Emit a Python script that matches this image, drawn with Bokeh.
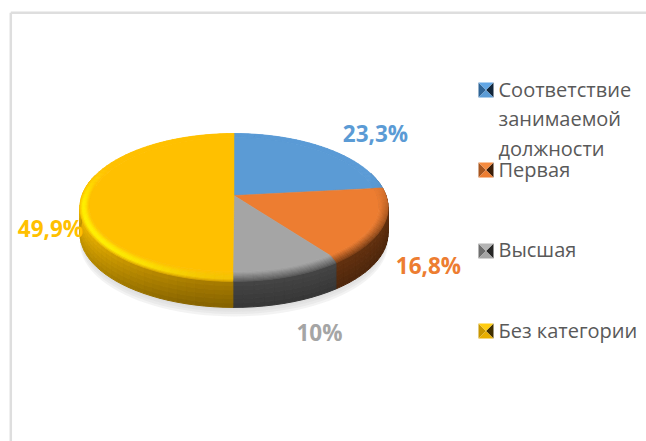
import math
from bokeh.plotting import figure
from bokeh.models import Range1d
from bokeh.core.properties import value
from bokeh.embed import file_html
from bokeh.resources import INLINE

categories = ["Соответствие занимаемой должности", "Первая", "Высшая", "Без категории"]
legend_lines = [["Соответствие", "занимаемой", "должности"], ["Первая"], ["Высшая"], ["Без категории"]]
shares = [23.3, 16.8, 10.0, 49.9]
share_labels = ["23,3%", "16,8%", "10%", "49,9%"]

base_colors = ["#5B9BD5", "#ED7D31", "#A5A5A5", "#FFC000"]
label_colors = ["#5B9BD5", "#ED7D31", "#A5A5A5", "#FFC000"]
bevel_colors = ["#3F6F9F", "#7A3D14", "#555555", "#FFF000"]
side_near = ["#2F5F8F", "#63310F", "#454545", "#A87C00"]
side_far = ["#2F5F8F", "#63310F", "#454545", "#F4BA00"]
label_pos = [(375, 133), (428, 265), (319, 332), (50, 228)]
legend_line_y = [[89, 118, 148], [169], [249], [330]]
legend_box_y = [82, 162, 243, 323]
marker_faces = [("#62A6E4", "#2F6496", "#12263A", "#5B9BD5"),
                ("#F58B40", "#A8561F", "#3A1D08", "#ED7D31"),
                ("#B4B4B4", "#6E6E6E", "#262626", "#A5A5A5"),
                ("#FFCC10", "#C89600", "#3F2F00", "#E8AE00")]

W, H = 646, 441
CX, CY, RX, RY, K = 233.5, 195, 152, 72, 0.162
DEPTH, TOP_SCALE = 26, 0.94


def rim(th, s=1.0, dz=0.0):
    u, v = math.sin(th), math.cos(th)
    d = 1 + K * v
    return CX + RX * s * u / d, CY - RY * s * v / d + dz


def bevel_pt(th, f):
    s = 1 - (1 - TOP_SCALE) * f
    return rim(th, s, -4.5 * max(0.0, -math.cos(th)) * f)


def hex_rgb(c):
    return tuple(int(c[i:i + 2], 16) for i in (1, 3, 5))


def mix(a, b, t):
    x, y = hex_rgb(a), hex_rgb(b)
    return "#%02x%02x%02x" % tuple(round(x[i] + (y[i] - x[i]) * t) for i in range(3))


p = figure(width=W, height=H, output_backend="svg", toolbar_location=None,
           x_range=Range1d(0, W), y_range=Range1d(H, 0),
           min_border=0, outline_line_color=None, background_fill_color="white")
p.axis.visible = False
p.grid.visible = False

p.segment(x0=[10.3, 10.3], y0=[12.2, 12.2], x1=[10.3, W], y1=[H, 12.2],
          line_color="#DEDEDE", line_width=2.5)

ring = [2 * math.pi * i / 120 for i in range(120)]
for i in range(5):
    pts = [rim(t, 1.0 - 0.004 * i, DEPTH + 9 - 2 * i) for t in ring]
    p.patch([a for a, _ in pts], [b for _, b in pts], fill_color="#D0D0D0", fill_alpha=0.25, line_color=None)

limits, acc = [], 0.0
for s in shares:
    limits.append((acc / sum(shares) * 2 * math.pi, (acc + s) / sum(shares) * 2 * math.pi))
    acc += s

side_x, side_y, side_c = [], [], []
bev_x, bev_y, bev_c = [], [], []
STEPS_SIDE, STEPS_BEVEL = 6, 8

for idx, (a, b) in enumerate(limits):
    n = max(2, int((b - a) / math.radians(3)))
    for j in range(n):
        t0 = a + (b - a) * j / n
        t1 = a + (b - a) * (j + 1) / n
        tm = (t0 + t1) / 2
        cm = math.cos(tm)
        front = max(0.0, -cm) ** 2.2
        side_top = mix(side_far[idx], side_near[idx], front)
        if cm < 0.3:  # only the part of the wall that faces the viewer
            for k in range(STEPS_SIDE):
                z0, z1 = DEPTH * (1 - k / STEPS_SIDE), DEPTH * (1 - (k + 1) / STEPS_SIDE)
                col = mix(side_top, mix(side_top, "#000000", 0.22), 1 - (k + 0.5) / STEPS_SIDE)
                q = [rim(t0, 1, z0), rim(t1, 1, z0), rim(t1, 1, z1), rim(t0, 1, z1)]
                side_x.append([c[0] for c in q])
                side_y.append([c[1] for c in q])
                side_c.append(col)
        for k in range(STEPS_BEVEL):
            f0, f1 = k / STEPS_BEVEL, (k + 1) / STEPS_BEVEL
            fm = (f0 + f1) / 2
            if idx == 3:
                strength = max(0.0, min(1.0, (0.42 - cm) / 0.5))
                peak = math.sin(math.pi * fm ** 0.8)
                lit = mix(bevel_colors[idx], "#F2B800", front ** 3 * 0.8)
                col = mix(base_colors[idx], lit, peak * strength)
                if fm < 0.3:
                    col = mix(col, side_top, (0.3 - fm) / 0.3 * 0.55 * strength)
            else:
                strength = max(0.0, min(1.0, 0.25 - 1.25 * cm))
                col = mix(base_colors[idx], bevel_colors[idx], (1 - fm) * strength)
            q = [bevel_pt(t0, f0), bevel_pt(t1, f0), bevel_pt(t1, f1), bevel_pt(t0, f1)]
            bev_x.append([c[0] for c in q])
            bev_y.append([c[1] for c in q])
            bev_c.append(col)

p.patches(side_x, side_y, fill_color=side_c, line_color=side_c, line_width=1)
p.patches(bev_x, bev_y, fill_color=bev_c, line_color=bev_c, line_width=0.8)

for idx, (a, b) in enumerate(limits):
    n = max(2, int((b - a) / math.radians(2)))
    pts = [bevel_pt(a + (b - a) * j / n, 1.0) for j in range(n + 1)]
    p.patch([CX] + [q[0] for q in pts], [CY] + [q[1] for q in pts],
            fill_color=base_colors[idx], line_color=base_colors[idx], line_width=0.5)

p.text(x=[q[0] for q in label_pos], y=[q[1] for q in label_pos], text=share_labels,
       text_color=label_colors, text_font=value("Open Sans"), text_font_style="bold",
       text_font_size="22.5px", text_align="center", text_baseline="middle")

for i, lines in enumerate(legend_lines):
    y0 = legend_box_y[i]
    x0, sz = 478, 15
    top, left, right, bottom = marker_faces[i]
    cx_m, cy_m = x0 + sz / 2, y0 + sz / 2
    p.patches([[x0, cx_m, x0], [x0 + sz, x0 + sz, cx_m], [x0, x0 + sz, cx_m], [x0, x0 + sz, cx_m]],
              [[y0, cy_m, y0 + sz], [y0, y0 + sz, cy_m], [y0, y0, cy_m], [y0 + sz, y0 + sz, cy_m]],
              fill_color=[left, right, top, bottom], line_color=None)
    p.text(x=[498] * len(lines), y=legend_line_y[i], text=lines, text_color="#595959",
           text_font=value("Open Sans"), text_font_size="20px", text_align="left", text_baseline="alphabetic")

open("out.html", "w").write(file_html(p, INLINE))
